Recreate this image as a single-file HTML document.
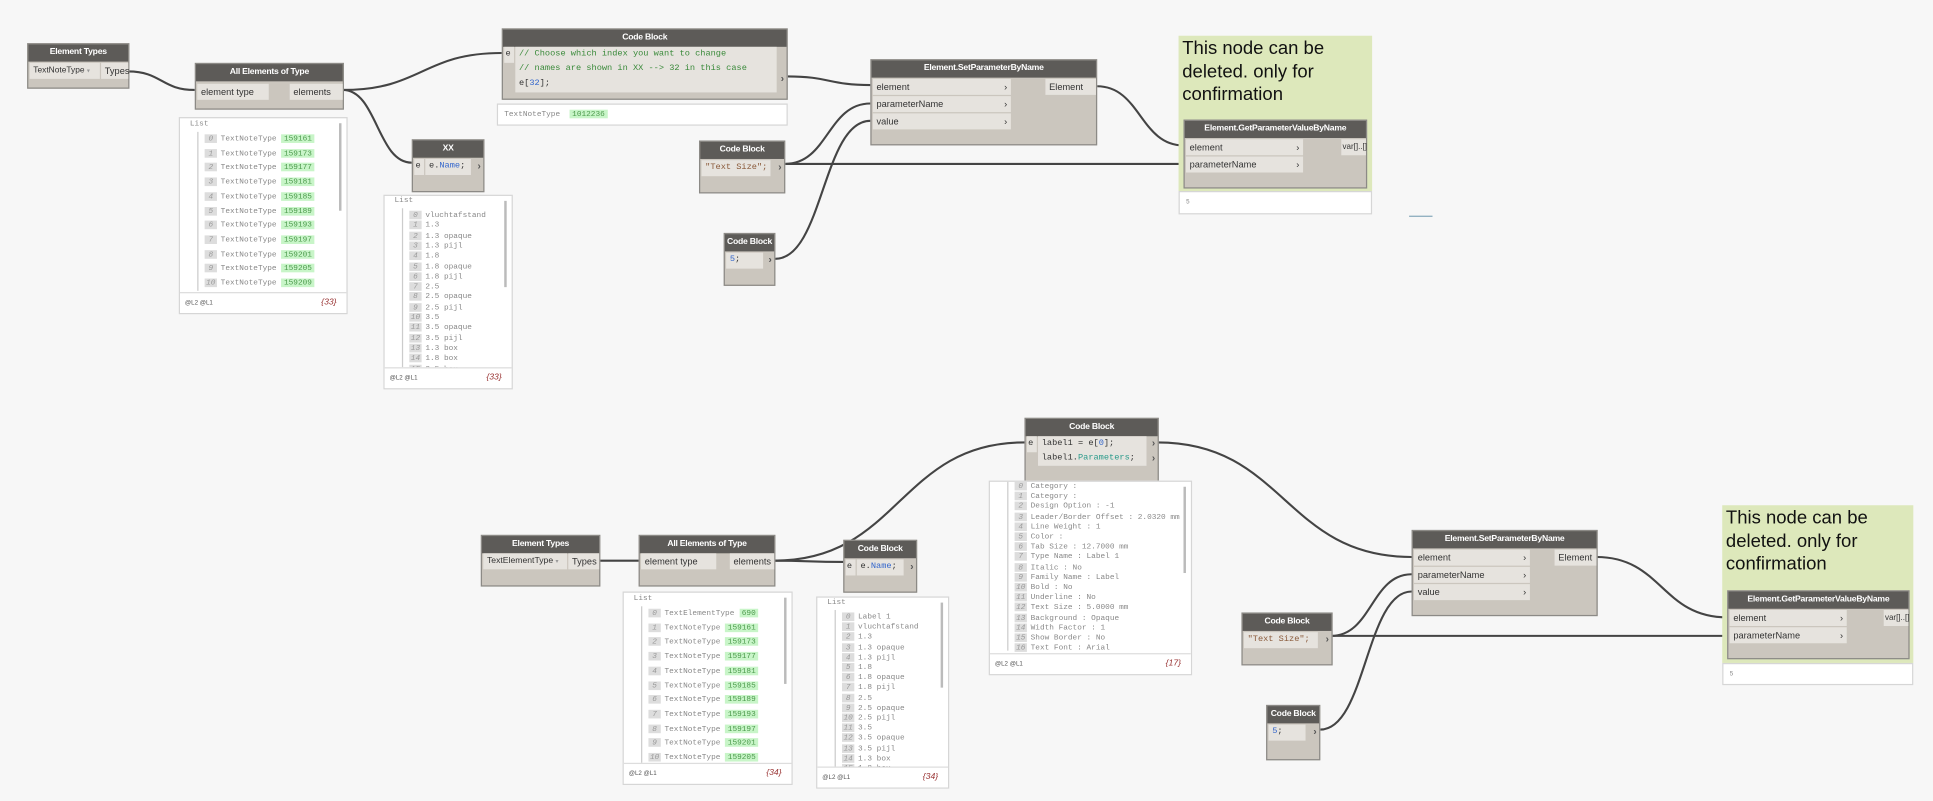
<!DOCTYPE html>
<html><head><meta charset="utf-8"><style>
html,body{margin:0;padding:0;background:#f7f7f7;overflow:hidden}
#s{position:absolute;left:0;top:0;width:1568px;height:650px;transform:scale(1.2328,1.2323);transform-origin:0 0;font-family:"Liberation Sans",sans-serif}
.n{position:absolute;background:#cbc6be;border:1px solid #8c8a86;box-sizing:border-box}
.h{height:14px;background:#5d5b58;color:#fff;font-weight:bold;font-size:7px;line-height:14px;text-align:center;letter-spacing:-0.2px}
.r{position:absolute;background:#e6e3de;font-size:7.5px;color:#333;line-height:13px;height:13px;padding:0 3px;box-sizing:border-box;white-space:nowrap}
.m{font-family:"Liberation Mono",monospace}
.w{position:absolute;background:#fff;border:1px solid #d6d6d6;box-sizing:border-box;overflow:hidden}
.li{position:absolute;font-family:"Liberation Mono",monospace;font-size:6.3px;color:#888;white-space:nowrap}
.ix{display:inline-block;background:#ddd;color:#999;width:10px;text-align:center;margin-right:3px;font-style:italic}
.g{background:#c8f5c8;color:#4c9a4c;padding:0 2px;margin-left:4px}
.ft{position:absolute;left:0;right:0;bottom:0;height:16px;border-top:1px solid #ddd;font-size:5px;color:#555;line-height:16px;padding-left:4px}
.ft i{position:absolute;right:8px;font-size:7px;color:#933}
.note{position:absolute;background:#dde8bb;font-size:15px;line-height:18.5px;color:#111;padding:2px 3px;box-sizing:border-box}
.ar{position:absolute;right:2px;font-size:8px;color:#555;font-weight:bold}
svg{position:absolute;left:0;top:0}
</style></head><body><div id="s">
<svg width="1568" height="650" fill="none" stroke="#444" stroke-width="1.7" id="wires"></svg>

<div class="n" style="left:22px;top:35px;width:83px;height:37px"><div class="h">Element Types</div>
<div class="r" style="left:1px;top:15px;width:57px;font-size:6.8px">TextNoteType <span style="color:#999;font-size:5px">▾</span></div>
<div class="r" style="left:59px;top:15px;width:22px">Types</div></div>

<div class="n" style="left:158px;top:51px;width:121px;height:38px"><div class="h">All Elements of Type</div>
<div class="r" style="left:1px;top:16px;width:58px">element type</div>
<div class="r" style="left:76px;top:16px;width:43px">elements</div></div>
<div class="w" style="left:145px;top:95px;width:137px;height:160px" id="l1"></div>

<div class="n" style="left:407px;top:23px;width:232px;height:58px"><div class="h">Code Block</div>
<div class="r m" style="left:1px;top:14px;width:8px;padding:0 1px;font-size:7px;line-height:12px">e</div>
<div class="r m" style="left:10px;top:14px;width:212px;height:37px;font-size:7px;line-height:12px;color:#3a8a3a">// Choose which index you want to change<br>// names are shown in XX --&gt; 32 in this case<br><span style="color:#333">e[<span style="color:#36c">32</span>];</span></div>
<div class="ar" style="top:35px">›</div></div>
<div class="w" style="left:403px;top:84px;width:236px;height:18px"><div class="li" style="left:5px;top:4px">TextNoteType <span class="g">1012236</span></div></div>

<div class="n" style="left:334px;top:113px;width:59px;height:43px"><div class="h">XX</div>
<div class="r m" style="left:1px;top:15px;width:8px;padding:0 1px;font-size:7px">e</div>
<div class="r m" style="left:10px;top:15px;width:37px;font-size:7px">e.<span style="color:#36c">Name</span>;</div>
<div class="ar" style="top:16px">›</div></div>
<div class="w" style="left:311px;top:158px;width:105px;height:158px" id="l2"></div>

<div class="n" style="left:706px;top:48px;width:184px;height:70px"><div class="h">Element.SetParameterByName</div>
<div class="r" style="left:1px;top:15px;width:112px">element<span style="position:absolute;right:3px">›</span></div>
<div class="r" style="left:1px;top:29px;width:112px">parameterName<span style="position:absolute;right:3px">›</span></div>
<div class="r" style="left:1px;top:43px;width:112px">value<span style="position:absolute;right:3px">›</span></div>
<div class="r" style="left:141px;top:15px;width:41px">Element</div></div>

<div class="n" style="left:567px;top:114px;width:70px;height:43px"><div class="h">Code Block</div>
<div class="r m" style="left:1px;top:15px;width:56px;font-size:7px;color:#8a5a3a">"Text Size";</div><div class="ar" style="top:16px">›</div></div>

<div class="n" style="left:587px;top:189px;width:42px;height:43px"><div class="h">Code Block</div>
<div class="r m" style="left:1px;top:15px;width:30px;font-size:7px;color:#36c">5<span style="color:#333">;</span></div><div class="ar" style="top:16px">›</div></div>

<div class="note" style="left:956px;top:29px;width:157px;height:126px">This node can be deleted. only for confirmation</div>
<div class="n" style="left:960px;top:97px;width:149px;height:56px"><div class="h">Element.GetParameterValueByName</div>
<div class="r" style="left:1px;top:15px;width:95px">element<span style="position:absolute;right:3px">›</span></div>
<div class="r" style="left:1px;top:29px;width:95px">parameterName<span style="position:absolute;right:3px">›</span></div>
<div class="r" style="left:127px;top:15px;width:20px;font-size:6.5px;padding:0 1px">var[]..[]</div></div>
<div class="w" style="left:956px;top:155px;width:157px;height:19px"><div class="li" style="left:5px;top:5px;font-size:5px">5</div></div>
<div style="position:absolute;left:1143px;top:175px;width:19px;height:1px;background:#8ab"></div>

<div class="n" style="left:390px;top:434px;width:97px;height:42px"><div class="h">Element Types</div>
<div class="r" style="left:1px;top:14px;width:68px;font-size:7px">TextElementType <span style="color:#999;font-size:5px">▾</span></div>
<div class="r" style="left:70px;top:14px;width:25px">Types</div></div>

<div class="n" style="left:518px;top:434px;width:111px;height:42px"><div class="h">All Elements of Type</div>
<div class="r" style="left:1px;top:14px;width:61px">element type</div>
<div class="r" style="left:73px;top:14px;width:36px">elements</div></div>
<div class="w" style="left:505px;top:480px;width:138px;height:157px" id="l3"></div>

<div class="n" style="left:684px;top:438px;width:60px;height:43px"><div class="h">Code Block</div>
<div class="r m" style="left:1px;top:15px;width:8px;padding:0 1px;font-size:7px">e</div>
<div class="r m" style="left:10px;top:15px;width:38px;font-size:7px">e.<span style="color:#36c">Name</span>;</div><div class="ar" style="top:16px">›</div></div>
<div class="w" style="left:662px;top:484px;width:108px;height:156px" id="l4"></div>

<div class="n" style="left:831px;top:339px;width:109px;height:54px"><div class="h">Code Block</div>
<div class="r m" style="left:1px;top:14px;width:8px;padding:0 1px;font-size:7px;line-height:12px">e</div>
<div class="r m" style="left:10px;top:14px;width:88px;height:24px;font-size:7px;line-height:12px">label1 = e[<span style="color:#36c">0</span>];<br>label1.<span style="color:#2a9a8a">Parameters</span>;</div>
<div class="ar" style="top:15px">›</div><div class="ar" style="top:27px">›</div></div>
<div class="w" style="left:802px;top:390px;width:165px;height:158px" id="l5"></div>

<div class="n" style="left:1145px;top:430px;width:151px;height:70px"><div class="h">Element.SetParameterByName</div>
<div class="r" style="left:1px;top:15px;width:94px">element<span style="position:absolute;right:3px">›</span></div>
<div class="r" style="left:1px;top:29px;width:94px">parameterName<span style="position:absolute;right:3px">›</span></div>
<div class="r" style="left:1px;top:43px;width:94px">value<span style="position:absolute;right:3px">›</span></div>
<div class="r" style="left:115px;top:15px;width:34px">Element</div></div>

<div class="n" style="left:1007px;top:497px;width:74px;height:43px"><div class="h">Code Block</div>
<div class="r m" style="left:1px;top:15px;width:60px;font-size:7px;color:#8a5a3a">"Text Size";</div><div class="ar" style="top:16px">›</div></div>

<div class="n" style="left:1027px;top:572px;width:44px;height:45px"><div class="h">Code Block</div>
<div class="r m" style="left:1px;top:15px;width:30px;font-size:7px;color:#36c">5<span style="color:#333">;</span></div><div class="ar" style="top:16px">›</div></div>

<div class="note" style="left:1397px;top:410px;width:155px;height:128px">This node can be deleted. only for confirmation</div>
<div class="n" style="left:1401px;top:479px;width:148px;height:56px"><div class="h">Element.GetParameterValueByName</div>
<div class="r" style="left:1px;top:15px;width:95px">element<span style="position:absolute;right:3px">›</span></div>
<div class="r" style="left:1px;top:29px;width:95px">parameterName<span style="position:absolute;right:3px">›</span></div>
<div class="r" style="left:126px;top:15px;width:20px;font-size:6.5px;padding:0 1px">var[]..[]</div></div>
<div class="w" style="left:1397px;top:538px;width:155px;height:18px"><div class="li" style="left:5px;top:5px;font-size:5px">5</div></div>
</div>
<script>
var W=[[104,58,158,73],[278,73,407,43],[278,73,334,132],[639,62,706,69],[637,133,706,84],[637,133,960,133],[629,210,706,98],[890,70,960,118],
[486,455,518,455],[628,455,684,456],[628,455,831,359],[939,359,1145,452],[1080,516,1145,466],[1080,516,1401,516],[1071,592,1145,480],[1295,452,1401,501]];
var s='';W.forEach(function(w){var d=Math.max(20,(w[2]-w[0])*0.5);s+='<path d="M'+w[0]+' '+w[1]+' C'+(w[0]+d)+' '+w[1]+' '+(w[2]-d)+' '+w[3]+' '+w[2]+' '+w[3]+'"/>';});
document.getElementById('wires').innerHTML=s;
function L(id,items,y0,step,cnt,hdr,green){var e=document.getElementById(id),h='';
if(hdr)h+='<div class="li" style="left:8px;top:'+(y0-12)+'px">List</div>';
items.forEach(function(t,i){var v=green?t.split('|'):[t];h+='<div class="li" style="left:20px;top:'+(y0+i*step)+'px"><span class="ix">'+i+'</span>'+v[0]+(v[1]?'<span class="g">'+v[1]+'</span>':'')+'</div>';});
h+='<div style="position:absolute;left:14px;top:'+(y0-2)+'px;width:1px;height:'+(items.length*step)+'px;background:#ccc"></div>';
h+='<div style="position:absolute;right:4px;top:4px;width:2px;height:45%;background:#bbb"></div>';
h+='<div class="ft" style="background:#fff">@L2 @L1<i>{'+cnt+'}</i></div>';e.innerHTML=h;}
var tn=['159161','159173','159177','159181','159185','159189','159193','159197','159201','159205','159209'].map(function(v){return 'TextNoteType|'+v});
L('l1',tn,13,11.7,33,1,1);
var nm=['vluchtafstand','1.3','1.3 opaque','1.3 pijl','1.8','1.8 opaque','1.8 pijl','2.5','2.5 opaque','2.5 pijl','3.5','3.5 opaque','3.5 pijl','1.3 box','1.8 box','2.5 box'];
L('l2',nm,12,8.3,33,1,0);
L('l3',['TextElementType|690'].concat(tn.slice(0,10)),13,11.7,34,1,1);
L('l4',['Label 1'].concat(nm.slice(0,15)),12,8.2,34,1,0);
L('l5',['Category :','Category :','Design Option : -1','Leader/Border Offset : 2.0320 mm','Line Weight : 1','Color :','Tab Size : 12.7000 mm','Type Name : Label 1','Italic : No','Family Name : Label','Bold : No','Underline : No','Text Size : 5.0000 mm','Background : Opaque','Width Factor : 1','Show Border : No','Text Font : Arial'],0,8.2,17,0,0);
</script>
</body></html>
